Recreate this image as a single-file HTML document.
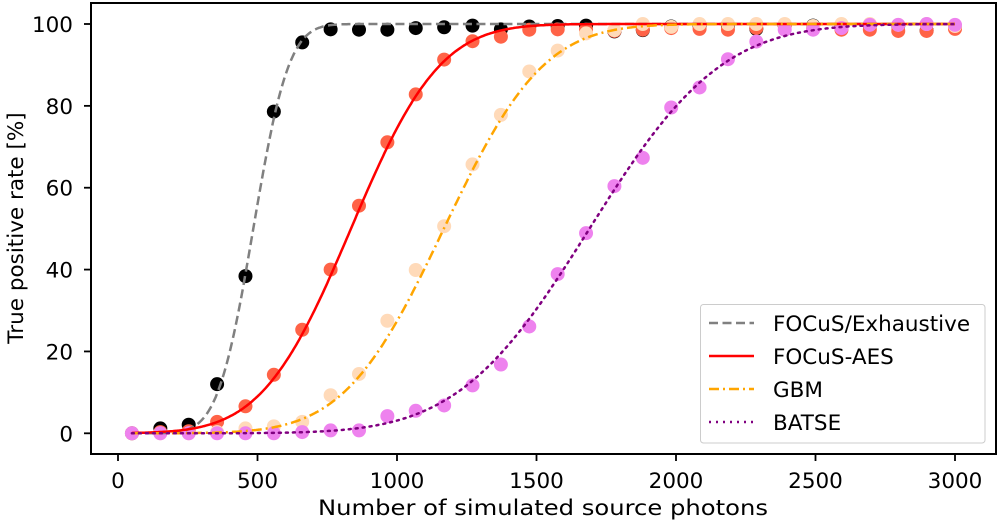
<!DOCTYPE html>
<html><head><meta charset="utf-8"><style>
body{margin:0;background:#fff;}
svg text{font-family:"DejaVu Sans","Liberation Sans",sans-serif;fill:#000;}
</style></head><body>
<svg id="chart" width="1000" height="524" viewBox="0 0 1000 524" xmlns="http://www.w3.org/2000/svg">
<g id="marks"></g>
<g id="axes"></g>
</svg>
<script>
const xValues = [50,151.7,253.4,355.2,456.9,558.6,660.3,762.1,863.8,965.5,1067.2,1169,1270.7,1372.4,1474.1,1575.9,1677.6,1779.3,1881,1982.8,2084.5,2186.2,2287.9,2389.7,2491.4,2593.1,2694.8,2796.6,2898.3,3000];
const exhaustiveVals = [0,1.2,2.1,12,38.4,78.6,95.5,98.7,98.6,98.6,99,99.2,99.6,98.7,99.4,99.5,99.6,98.2,98.5,99.4,99.6,99.6,98.8,99.6,99.6,99.6,99.6,99.6,98.4,99.5];
const aesVals = [0,0.3,0.5,2.8,6.6,14.3,25.3,40,55.6,71.1,82.8,91.3,95.8,96.9,98.6,98.7,98.6,98.3,98.6,99,98.8,98.6,99,99.6,98.8,98.6,98.6,98.3,98.3,98.8];
const gbmVals = [0,0,0,0.3,1.2,1.7,2.8,9.3,14.5,27.5,39.9,50.6,65.7,77.8,88.4,93.5,97.7,98.5,100,99.3,100,100,100,100,99.5,100,100,99.8,100,99.5];
const batseVals = [0,0,0,0,0,0,0.3,0.7,0.7,4.2,5.5,6.8,11.7,16.8,26.1,38.9,48.9,60.4,67.3,79.6,84.5,91.4,95.7,98.6,98.6,99,99.8,99.8,100,99.8];
const fitCenters = [485,835,1168,1690];
const fitSigmas = [100,250,280,370];
const xTicks = [0,500,1000,1500,2000,2500,3000];
const yTicks = [0,20,40,60,80,100];
const seriesNames = ["FOCuS/Exhaustive","FOCuS-AES","GBM","BATSE"];

const NS="http://www.w3.org/2000/svg";
const X0=91,X1=996,Y0=3,Y1=454;
function sx(v){return 118+0.2790*v;}
function sy(v){return 433.3-4.093*v;}
function erf(x){const s=x<0?-1:1;x=Math.abs(x);const t=1/(1+0.3275911*x);const y=1-(((((1.061405429*t-1.453152027)*t)+1.421413741)*t-0.284496736)*t+0.254829592)*t*Math.exp(-x*x);return s*y;}
function mk(tag,attrs,parent){const e=document.createElementNS(NS,tag);for(const k in attrs)e.setAttribute(k,attrs[k]);parent.appendChild(e);return e;}
const marks=document.getElementById('marks'),axes=document.getElementById('axes');

const pointSets=[[exhaustiveVals,'#000000','points-exhaustive'],[aesVals,'#ff6347','points-focus-aes'],[gbmVals,'#ffdab9','points-gbm'],[batseVals,'#ee82ee','points-batse']];
pointSets.forEach(([vals,col,name])=>{
  const g=mk('g',{},marks);
  
  
  vals.forEach((v,i)=>{
    const c=mk('circle',{cx:sx(xValues[i]),cy:sy(v),r:7,fill:col},g);
    
    
  });
});
const styles=[['#808080','9,4.5'],['#ff0000',''],['#ffa500','10,4,2,4'],['#800080','2,5']];
const lineNames=['fit-exhaustive','fit-focus-aes','fit-gbm','fit-batse'];
fitCenters.forEach((c,k)=>{
  let d='';
  for(let x=50;x<=3000;x+=5){
    const y=50*(1+erf((x-c)/(fitSigmas[k]*Math.SQRT2)));
    d+=(x===50?'M':'L')+sx(x).toFixed(1)+','+sy(y).toFixed(1);
  }
  const p=mk('path',{d:d,fill:'none',stroke:styles[k][0],'stroke-width':2.5,'stroke-dasharray':styles[k][1]||'none','stroke-linecap':styles[k][1]==='2,5'?'round':'butt'},marks);
  
  
});

const frame=mk('rect',{x:X0,y:Y0,width:X1-X0,height:Y1-Y0,fill:'none',stroke:'#000','stroke-width':2},axes);


xTicks.forEach(t=>{
  const x=sx(t);
  mk('line',{x1:x,y1:Y1,x2:x,y2:Y1+7,stroke:'#000','stroke-width':1.8},axes);
  const tx=mk('text',{x:x,y:488,'text-anchor':'middle','font-size':21.5},axes);
  tx.textContent=t;
  
  
});
yTicks.forEach(t=>{
  const y=sy(t);
  mk('line',{x1:X0-7,y1:y,x2:X0,y2:y,stroke:'#000','stroke-width':1.8},axes);
  const tx=mk('text',{x:73,y:y+8,'text-anchor':'end','font-size':21.5},axes);
  tx.textContent=t;
  
  
});
const xl=mk('text',{x:543,y:515,'text-anchor':'middle','font-size':21.5,textLength:450,lengthAdjust:'spacingAndGlyphs'},axes);
xl.textContent='Number of simulated source photons';


const yl=mk('text',{x:0,y:0,'text-anchor':'middle','font-size':21.5,transform:'translate(23,228) rotate(-90)'},axes);
yl.textContent='True positive rate [%]';



const leg=mk('g',{},axes);


mk('rect',{x:700.5,y:304.5,width:284.5,height:138.5,rx:3,fill:'#fff','fill-opacity':0.8,stroke:'#ccc','stroke-width':1},leg);
seriesNames.forEach((n,k)=>{
  const y=323+k*33;
  mk('line',{x1:709,y1:y,x2:754,y2:y,stroke:styles[k][0],'stroke-width':2.5,'stroke-dasharray':styles[k][1]||'none'},leg);
  const t=mk('text',{x:773,y:y+8,'font-size':21.5},leg);
  t.textContent=n;
  
  
});
</script>
</body></html>
